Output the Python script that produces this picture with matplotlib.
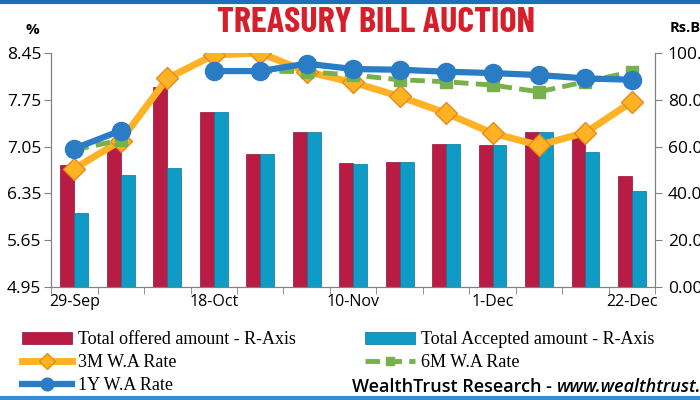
import matplotlib
matplotlib.use('Agg')
import matplotlib.pyplot as plt
import numpy as np
from matplotlib.lines import Line2D

# данные
labels = ['29-Sep', '', '', '18-Oct', '', '', '10-Nov', '', '', '1-Dec', '', '', '22-Dec']
offered = [52.0, 60.0, 85.5, 75.0, 57.0, 66.2, 52.8, 53.3, 61.1, 60.7, 66.2, 65.7, 47.6]
accepted = [31.7, 47.9, 50.9, 75.0, 57.0, 66.2, 52.6, 53.3, 61.1, 60.7, 66.2, 57.5, 41.0]
rate_3m = [6.72, 7.14, 8.07, 8.42, 8.45, 8.17, 8.01, 7.80, 7.55, 7.25, 7.07, 7.26, 7.72]
rate_6m = [7.00, 7.15, np.nan, 8.18, 8.18, 8.17, 8.12, 8.05, 8.02, 7.97, 7.87, 8.02, 8.17]
rate_1y = [7.02, 7.29, np.nan, 8.18, 8.18, 8.29, 8.21, 8.20, 8.17, 8.15, 8.12, 8.07, 8.05]

x = np.arange(len(labels))

fig = plt.figure(figsize=(7, 4), dpi=100)
ax_bar = fig.add_axes([0.073, 0.2825, 0.863, 0.585])
ax = ax_bar.twinx()

# столбцы - правая ось
w = 0.3
ax_bar.bar(x - w / 2, offered, w, color='#B81C45', edgecolor='#8E1234', linewidth=0.5,
           label='Total offered amount - R-Axis')
ax_bar.bar(x + w / 2, accepted, w, color='#0E9CC6', edgecolor='#0A7398', linewidth=0.5,
           label='Total Accepted amount - R-Axis')
ax_bar.set_ylim(0, 100)
ax_bar.set_yticks([0, 20, 40, 60, 80, 100])
ax_bar.set_yticklabels(['%.2f' % v for v in [0, 20, 40, 60, 80, 100]])
ax_bar.yaxis.tick_right()

# линии - левая ось
ax.plot(x, rate_3m, color='#FFB224', lw=5, marker='D', ms=11, mfc='#FFB224', mec='#E58A1C',
        mew=1, label='3M W.A Rate', zorder=3)
ax.plot(x, rate_6m, color='#78B04C', lw=3.5, ls=(0, (3, 1.5)), marker='s', ms=8, mfc='#78B04C',
        mec='#78B04C', label='6M W.A Rate', zorder=4)
ax.plot(x, rate_1y, color='#2A7CC5', lw=4.5, marker='o', ms=13, mfc='#2A7CC5', mec='#2A7CC5',
        label='1Y W.A Rate', zorder=5)
ax.set_ylim(4.95, 8.45)
yt = [4.95, 5.65, 6.35, 7.05, 7.75, 8.45]
ax.set_yticks(yt)
ax.set_yticklabels(['%.2f' % v for v in yt])
ax.yaxis.tick_left()

ax.set_xlim(-0.5, len(labels) - 0.5)
ax_bar.set_xticks(x)
ax_bar.set_xticklabels(labels)
ax_bar.set_xticks(np.arange(-0.5, len(labels), 1), minor=True)
ax_bar.tick_params(axis='x', which='major', length=0, pad=5, labelsize=11.5)
ax_bar.tick_params(axis='x', which='minor', length=5, color='#808080', direction='out')

for a in (ax, ax_bar):
    for s in a.spines.values():
        s.set_color('#808080')
    a.spines['top'].set_visible(False)
ax.tick_params(axis='y', length=5, color='#808080', labelsize=12.5, pad=2)
ax_bar.tick_params(axis='y', length=5, color='#808080', labelsize=12.5, pad=4)

for t in ax.get_yticklabels() + ax_bar.get_yticklabels() + ax_bar.get_xticklabels():
    t.set_fontfamily('Open Sans')

# заголовок и подписи осей
fig.text(0.537, 0.943, 'TREASURY BILL AUCTION', ha='center', va='center', color='#D71F2B',
         fontsize=26, fontweight='bold', family=['Barlow Condensed', 'DejaVu Sans'])
fig.text(0.036, 0.925, '%', ha='left', va='center', fontsize=11, fontweight='bold',
         family='Open Sans')
fig.text(0.957, 0.93, 'Rs.Bn', ha='left', va='center', fontsize=10.5, fontweight='bold',
         family='Open Sans')

# легенда: две колонки, каждая своей легендой
h1, l1 = ax_bar.get_legend_handles_labels()
h2, l2 = ax.get_legend_handles_labels()
leg_kw = dict(loc='upper left', frameon=False, handlelength=2.8, handletextpad=0.33,
              labelspacing=0.33, borderaxespad=0, borderpad=0,
              prop={'family': 'Liberation Serif', 'size': 13})
leg1 = fig.legend([h1[0], h2[0], h2[2]], [l1[0], l2[0], l2[2]],
                  bbox_to_anchor=(0.031, 0.172), **leg_kw)
leg2 = fig.legend([h1[1], h2[1]], [l1[1], l2[1]],
                  bbox_to_anchor=(0.521, 0.172), **leg_kw)
for lg in (leg1, leg2):
    for lh in lg.legend_handles:
        if isinstance(lh, Line2D):
            lh.set_markersize(lh.get_markersize() * 0.7)

t1 = fig.text(0.503, 0.032, 'WealthTrust Research - ', ha='left', va='center', fontsize=13,
              family='Open Sans', fontweight='semibold')
fig.canvas.draw()
bb = t1.get_window_extent().transformed(fig.transFigure.inverted())
fig.text(bb.x1, 0.032, 'www.wealthtrust.lk', ha='left', va='center', fontsize=13,
         family='Open Sans', fontweight='semibold', style='italic')

# синие полосы сверху и снизу
fig.add_artist(Line2D([0, 1], [0.995, 0.995], color='#1E6FBA', lw=3, transform=fig.transFigure))
fig.add_artist(Line2D([0, 1], [0.005, 0.005], color='#3A8BD0', lw=3, transform=fig.transFigure))

fig.savefig('out.png', dpi=100)
